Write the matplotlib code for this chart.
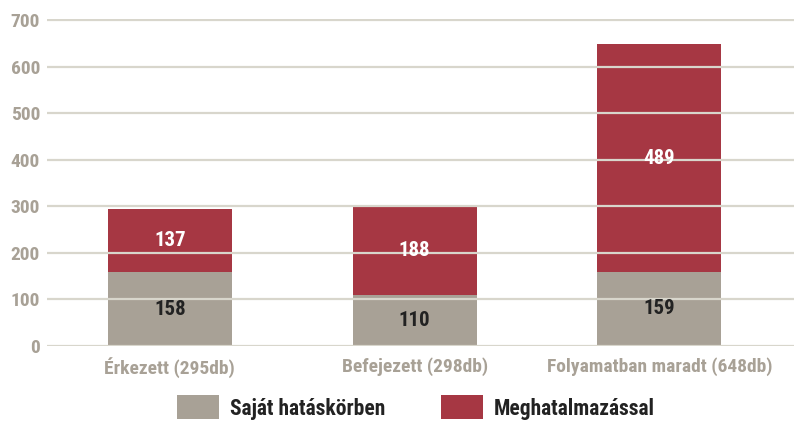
import matplotlib.pyplot as plt
from matplotlib import font_manager

kategoriak = ["Érkezett (295db)", "Befejezett (298db)", "Folyamatban maradt (648db)"]
sajat = [158, 110, 159]
meghatalmazas = [137, 188, 489]
sorozat_nevek = ["Saját hatáskörben", "Meghatalmazással"]
y_tickek = [0, 100, 200, 300, 400, 500, 600, 700]

SZURKE = "#a8a196"
PIROS = "#a63743"
RACS = "#d8d6cc"

# keskeny félkövér betű, ha van
elerheto = {f.name for f in font_manager.fontManager.ttflist}
csalad = [c for c in ["Liberation Sans Narrow", "Roboto Condensed", "Open Sans", "DejaVu Sans"] if c in elerheto]
plt.rcParams["font.family"] = csalad
plt.rcParams["font.weight"] = "bold"

fig = plt.figure(figsize=(7.94, 4.22), dpi=100)
ax = fig.add_axes([47 / 794, 76 / 422, 1 - 47 / 794, 327 / 422])

x = range(len(kategoriak))
b1 = ax.bar(x, sajat, width=0.506, color=SZURKE, label=sorozat_nevek[0], zorder=1)
b2 = ax.bar(x, meghatalmazas, width=0.506, bottom=sajat, color=PIROS, label=sorozat_nevek[1], zorder=1)

for i in x:
    ax.text(i, sajat[i] / 2, str(sajat[i]), ha="center", va="center",
            color="#222222", fontsize=15, fontweight="bold", zorder=3)
    ax.text(i, sajat[i] + meghatalmazas[i] / 2, str(meghatalmazas[i]), ha="center", va="center",
            color="white", fontsize=15, fontweight="bold", zorder=3)

ax.set_xlim(-0.502, 2.55)
ax.set_ylim(0, 702)
ax.set_yticks(y_tickek)
ax.set_xticks(list(x))
ax.set_xticklabels(kategoriak)
ax.yaxis.grid(True, color=RACS, linewidth=1.6, zorder=2)
ax.set_axisbelow(False)
for s in ax.spines.values():
    s.set_visible(False)
ax.tick_params(axis="both", length=0, colors=SZURKE, labelsize=14)
ax.tick_params(axis="x", pad=8)
ax.tick_params(axis="y", pad=5)

leg = fig.legend(handles=[b1, b2], loc="lower center", bbox_to_anchor=(0.524, -0.04), ncol=2,
                 frameon=False, fontsize=15.5, handlelength=1.95, handleheight=1.35,
                 columnspacing=2.6, handletextpad=0.5)
for t in leg.get_texts():
    t.set_color("#222222")

fig.savefig("out.png", dpi=100)
